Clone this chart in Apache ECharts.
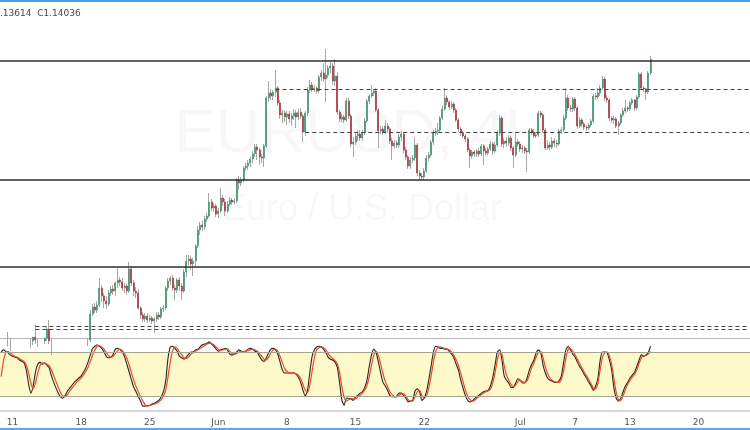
<!DOCTYPE html>
<html>
<head>
<meta charset="utf-8">
<title>EURUSD 4H</title>
<script src="https://cdn.jsdelivr.net/npm/echarts@6/dist/echarts.min.js"></script>
<style>
  html, body { margin: 0; padding: 0; background: #fff; }
  #main { width: 750px; height: 430px; }
</style>
</head>
<body>
<div id="main"></div>
<script>
// EUR/USD 4H candles, prices stored x10000 (pips)
const open = [
  10832,10838,10842,10836,10845,10830,10818,10812,10806,10812,
  10804,10810,10822,10834,10840,10848,10842,10836,10830,10840,
  10846,10864,10840,10822,10800,10786,10778,10790,10798,10810,
  10804,10796,10788,10800,10806,10812,10818,10826,10836,10842,
  10894,10908,10902,10912,10946,10930,10920,10914,10936,10944,
  10940,10956,10962,10958,10946,10950,10940,10984,10956,10940,
  10936,10906,10892,10884,10890,10882,10886,10880,10884,10892,
  10888,10904,10906,10946,10960,10966,10946,10942,10962,10950,
  10940,10978,11000,11004,10994,11000,11030,11062,11072,11068,
  11084,11090,11118,11106,11110,11094,11100,11126,11118,11100,
  11114,11122,11118,11120,11162,11156,11162,11186,11190,11196,
  11204,11214,11228,11222,11208,11206,11230,11326,11336,11330,
  11338,11346,11316,11292,11296,11288,11294,11284,11290,11296,
  11288,11298,11290,11258,11296,11342,11352,11344,11346,11340,
  11368,11376,11364,11372,11386,11390,11360,11370,11298,11284,
  11288,11282,11320,11290,11234,11238,11250,11254,11246,11256,
  11280,11320,11330,11336,11340,11302,11260,11264,11258,11270,
  11264,11240,11230,11236,11232,11248,11254,11222,11208,11190,
  11202,11206,11232,11176,11170,11168,11180,11206,11212,11238,
  11256,11260,11262,11286,11304,11326,11318,11308,11314,11302,
  11282,11264,11256,11250,11244,11222,11210,11218,11214,11220,
  11214,11230,11220,11216,11224,11234,11220,11232,11256,11286,
  11234,11240,11236,11246,11226,11212,11238,11234,11224,11226,
  11220,11218,11262,11258,11250,11252,11296,11292,11262,11226,
  11232,11228,11240,11236,11234,11260,11262,11286,11326,11306,
  11304,11324,11306,11270,11282,11274,11268,11266,11272,11280,
  11330,11328,11336,11346,11364,11326,11322,11286,11282,11284,
  11270,11276,11292,11300,11306,11304,11316,11322,11306,11328,
  11374,11346,11344,11338,11376
];
const close = [
  10838,10842,10836,10845,10830,10818,10812,10806,10812,10804,
  10810,10822,10834,10840,10848,10842,10836,10830,10840,10846,
  10864,10840,10822,10800,10786,10778,10790,10798,10810,10804,
  10796,10788,10800,10806,10812,10818,10826,10836,10842,10894,
  10908,10902,10912,10946,10930,10920,10914,10936,10944,10940,
  10956,10962,10958,10946,10950,10940,10984,10956,10940,10936,
  10906,10892,10884,10890,10882,10886,10880,10884,10892,10888,
  10904,10906,10946,10960,10966,10946,10942,10962,10950,10940,
  10978,11000,11004,10994,11000,11030,11062,11072,11068,11084,
  11090,11118,11106,11110,11094,11100,11126,11118,11100,11114,
  11122,11118,11120,11162,11156,11162,11186,11190,11196,11204,
  11214,11228,11222,11208,11206,11230,11326,11336,11330,11338,
  11346,11316,11292,11296,11288,11294,11284,11290,11296,11288,
  11298,11290,11258,11296,11342,11352,11344,11346,11340,11368,
  11376,11364,11372,11386,11390,11360,11370,11298,11284,11288,
  11282,11320,11290,11234,11238,11250,11254,11246,11256,11280,
  11320,11330,11336,11340,11302,11260,11264,11258,11270,11264,
  11240,11230,11236,11232,11248,11254,11222,11208,11190,11202,
  11206,11232,11176,11170,11168,11180,11206,11212,11238,11256,
  11260,11262,11286,11304,11326,11318,11308,11314,11302,11282,
  11264,11256,11250,11244,11222,11210,11218,11214,11220,11214,
  11230,11220,11216,11224,11234,11220,11232,11256,11286,11234,
  11240,11236,11246,11226,11212,11238,11234,11224,11226,11220,
  11218,11262,11258,11250,11252,11296,11292,11262,11226,11232,
  11228,11240,11236,11234,11260,11262,11286,11326,11306,11304,
  11324,11306,11270,11282,11274,11268,11266,11272,11280,11330,
  11328,11336,11346,11364,11326,11322,11286,11282,11284,11270,
  11276,11292,11300,11306,11304,11316,11322,11306,11328,11374,
  11346,11344,11338,11376,11403.6
];
const low = [
  10822,10828,10826,10830,10820,10808,10800,10790,10796,10794,
  10798,10804,10816,10826,10832,10834,10828,10820,10824,10834,
  10840,10834,10812,10790,10774,10766,10772,10784,10792,10796,
  10786,10776,10782,10794,10800,10806,10810,10820,10830,10838,
  10890,10896,10896,10908,10918,10906,10904,10910,10930,10932,
  10930,10946,10950,10940,10936,10932,10936,10950,10930,10926,
  10902,10884,10878,10878,10876,10878,10874,10856,10878,10882,
  10884,10898,10902,10940,10952,10940,10922,10936,10940,10922,
  10936,10968,10992,10982,10970,10990,11026,11052,11060,11062,
  11078,11086,11100,11098,11088,11086,11096,11110,11090,11096,
  11110,11112,11114,11116,11142,11150,11158,11180,11182,11188,
  11196,11208,11202,11192,11196,11188,11226,11318,11322,11322,
  11328,11310,11284,11276,11278,11272,11276,11270,11282,11266,
  11282,11284,11238,11250,11290,11336,11338,11338,11334,11336,
  11360,11358,11318,11366,11376,11352,11350,11292,11278,11278,
  11276,11278,11284,11228,11208,11232,11240,11240,11240,11252,
  11276,11314,11326,11330,11298,11226,11254,11252,11254,11256,
  11234,11202,11224,11226,11226,11240,11216,11202,11184,11184,
  11196,11200,11170,11162,11162,11162,11176,11200,11208,11232,
  11250,11252,11258,11282,11300,11312,11302,11304,11296,11278,
  11258,11250,11246,11238,11218,11186,11204,11208,11208,11208,
  11210,11192,11212,11212,11220,11212,11216,11228,11250,11228,
  11226,11228,11230,11220,11186,11208,11228,11218,11216,11214,
  11178,11214,11252,11246,11246,11248,11286,11256,11222,11222,
  11222,11224,11228,11226,11230,11254,11258,11282,11300,11298,
  11298,11300,11264,11266,11268,11262,11260,11262,11268,11276,
  11322,11324,11330,11342,11320,11316,11280,11276,11274,11266,
  11252,11272,11288,11296,11298,11300,11312,11300,11302,11324,
  11342,11338,11322,11334,11372
];
const high = [
  10844,10844,10843,10858,10846,10836,10826,10820,10818,10818,
  10816,10828,10840,10846,10846,10872,10846,10844,10845,10846,
  10868,10882,10846,10828,10806,10792,10796,10806,10816,10818,
  10812,10802,10806,10814,10820,10826,10832,10842,10846,10902,
  10914,10916,10920,10966,10952,10936,10930,10942,10950,10952,
  10960,10986,10968,10966,10956,10954,10998,10990,10962,10948,
  10944,10910,10898,10896,10896,10892,10890,10888,10898,10898,
  10908,10912,10950,10966,10970,10972,10952,10966,10968,10956,
  10984,11012,11012,11010,11006,11034,11070,11078,11080,11090,
  11096,11136,11124,11116,11114,11106,11146,11132,11124,11120,
  11128,11126,11126,11166,11170,11168,11190,11196,11202,11210,
  11220,11234,11234,11226,11214,11234,11330,11360,11344,11342,
  11382,11350,11322,11302,11302,11300,11300,11296,11304,11302,
  11304,11306,11294,11300,11348,11362,11358,11352,11350,11372,
  11382,11396,11424,11392,11398,11396,11404,11378,11302,11294,
  11292,11326,11326,11294,11248,11256,11262,11262,11262,11286,
  11324,11334,11352,11344,11346,11306,11270,11270,11282,11276,
  11268,11246,11242,11242,11254,11260,11258,11228,11212,11208,
  11212,11248,11236,11182,11176,11186,11212,11218,11242,11262,
  11266,11276,11290,11310,11346,11332,11322,11320,11318,11306,
  11286,11268,11260,11254,11248,11226,11222,11222,11224,11226,
  11234,11234,11226,11228,11240,11238,11238,11262,11292,11290,
  11246,11248,11252,11250,11230,11256,11244,11240,11232,11230,
  11226,11266,11266,11264,11258,11300,11300,11296,11266,11242,
  11238,11248,11246,11242,11264,11268,11292,11346,11332,11312,
  11328,11328,11310,11288,11286,11278,11272,11276,11284,11334,
  11336,11346,11352,11370,11368,11332,11326,11290,11290,11288,
  11280,11296,11306,11322,11310,11320,11326,11324,11332,11378,
  11378,11350,11346,11380,11410
];

// stochastic %K (black) and %D (red)
const stochK = [
  81,84,82,80,77,75,74,73,70,68, 66,56,37,24,34,53,64,67,64,66,
  63,59,48,39,31,24,19,17,21,27, 31,35,39,42,45,48,53,59,67,77,
  86,89,91,89,86,81,75,73,74,78, 85,86,84,81,74,64,53,42,32,26,
  19,13,6,6,7,7,9,10,12,14, 19,26,42,73,88,89,86,82,75,73,
  71,74,78,81,81,84,85,88,91,92, 93,95,92,89,85,82,84,85,86,84,
  78,77,78,81,84,82,81,82,85,86, 85,82,81,75,70,68,73,80,85,86,
  84,78,67,56,52,52,52,52,52,50, 46,39,28,20,28,53,75,84,88,89,
  88,85,80,74,71,70,67,60,39,14, 7,17,17,16,14,19,21,24,26,32,
  42,61,77,85,80,67,52,39,34,28, 21,19,19,20,24,24,21,17,12,13,
  14,27,30,26,14,17,26,42,61,80, 89,88,86,86,85,85,82,78,73,64,
  56,42,31,21,14,12,13,16,19,21, 24,26,27,28,34,46,63,81,84,70,
  48,42,38,32,32,38,44,42,38,38, 45,56,64,70,80,84,80,63,52,45,
  42,41,39,39,41,48,67,84,89,84, 78,74,67,61,56,50,45,39,34,28,
  34,45,70,81,81,80,70,56,31,17, 13,17,26,34,39,45,49,53,61,70,
  77,75,77,80,89
];
const stochD = [
  47,68,80,82,80,77,75,74,72,70, 68,63,52,38,30,38,52,62,66,65,
  64,62,56,48,40,32,25,20,19,22, 27,31,35,39,42,45,49,54,60,68,
  77,84,89,90,88,85,80,76,74,75, 79,83,85,83,79,72,63,52,42,33,
  26,19,13,8,6,7,8,9,10,12, 15,20,29,47,68,83,88,86,81,77,
  73,72,74,78,80,82,84,86,88,90, 92,93,93,91,88,85,83,84,85,85,
  82,79,78,79,81,82,82,82,83,84, 85,84,82,79,75,71,70,74,80,84,
  85,82,75,66,58,54,52,52,52,51, 49,44,36,28,25,35,55,73,84,87,
  88,87,84,79,75,72,69,65,53,33, 18,13,15,16,16,16,19,21,24,28,
  35,47,63,77,82,76,64,51,40,33, 26,22,19,19,21,23,23,20,15,13,
  13,19,26,28,21,17,20,31,47,66, 81,87,88,87,86,85,84,81,76,70,
  62,51,40,29,20,15,13,14,17,19, 22,24,26,27,30,38,52,70,80,78,
  62,49,42,36,33,35,40,42,40,39, 41,49,59,66,74,80,82,73,60,51,
  45,42,40,39,39,43,55,73,85,86, 82,77,71,65,59,53,48,43,37,31,
  30,38,57,74,80,81,76,64,44,25, 15,14,20,29,36,42,46,50,56,65,
  73,76,76,78,82
];

// x axis ticks
const tickDates = ['2020-05-11','2020-05-18','2020-05-25','2020-06-01','2020-06-08','2020-06-15',
                   '2020-06-22','2020-07-01','2020-07-07','2020-07-13','2020-07-20'];
const tickText = ['11','18','25','Jun','8','15','22','Jul','7','13','20'];

// drawn levels (pips)
const solidLevels = [11400, 11162, 10988];
const dashedLevels = [11344, 11258, 10870, 10864];
const dashedFrom = ['2020-06-05 04:00', '2020-06-09 08:00', '2020-05-12 16:00', '2020-05-12 16:00'];

// 4H bar slots, weekdays only, from May 8 2020 04:00 to past the last bar
const slots = 328;
const categories = [];
const day = new Date(Date.UTC(2020, 4, 8));
let firstHour = 4;
while (categories.length < slots) {
  const wd = day.getUTCDay();
  if (wd !== 0 && wd !== 6) {
    for (let h = firstHour; h < 24 && categories.length < slots; h += 4) {
      categories.push(day.toISOString().slice(0, 10) + ' ' + String(h).padStart(2, '0') + ':00');
    }
    firstHour = 0;
  }
  day.setUTCDate(day.getUTCDate() + 1);
}

const candles = open.map((o, i) => [o, close[i], low[i], high[i]].map(v => v / 1e4));
const bodies = candles.map(([o, c]) => [o, c, Math.min(o, c), Math.max(o, c)]);

const tickAt = {};
tickDates.forEach((d, k) => { tickAt[categories.indexOf(d + ' 00:00')] = tickText[k]; });
const isTick = idx => tickAt[idx] !== undefined;

const chart = echarts.init(document.getElementById('main'));

const option = {
  animation: false,
  backgroundColor: '#ffffff',
  grid: [
    { left: 0, right: 0, top: 3, height: 335, outerBoundsMode: 'none' },
    { left: 0, right: 0, top: 338.3, height: 72.2, outerBoundsMode: 'none' }
  ],
  xAxis: [
    {
      type: 'category', gridIndex: 0, data: categories, boundaryGap: true,
      axisLine: { lineStyle: { color: '#b8b8b8', width: 1 } },
      axisTick: { show: false }, axisLabel: { show: false }, splitLine: { show: false }
    },
    {
      type: 'category', gridIndex: 1, data: categories, boundaryGap: true, offset: 1.5,
      axisLine: { lineStyle: { color: '#cacaca', width: 1.5 } },
      axisTick: { interval: isTick, alignWithLabel: true, length: 3, lineStyle: { color: '#999' } },
      axisLabel: {
        interval: isTick, formatter: (v, i) => tickAt[i],
        fontSize: 9, color: '#555', margin: 6, fontFamily: '"DejaVu Sans"'
      },
      splitLine: { show: false }
    }
  ],
  yAxis: [
    { gridIndex: 0, min: 1.0846, max: 1.1516, show: false },
    { gridIndex: 1, min: 0, max: 100, show: false }
  ],
  graphic: [
    { type: 'rect', z: 100, shape: { x: 0, y: 0, width: 750, height: 2 }, style: { fill: '#4b9be6' } },
    { type: 'rect', z: 100, shape: { x: 0, y: 428, width: 750, height: 2 }, style: { fill: '#5aa9ef' } },
    { type: 'text', z: 100, x: 0, y: 9, style: { text: '.13614  C1.14036', font: '9px "DejaVu Sans"', fill: '#4a4a4a' } },
    { type: 'text', z: -1, x: 362, y: 135, style: { text: 'EURUSD, 4H', font: '62px "Liberation Sans"', fill: 'rgba(0,0,0,0.03)', textAlign: 'center', textVerticalAlign: 'middle' } },
    { type: 'text', z: -1, x: 362, y: 210, style: { text: 'Euro / U.S. Dollar', font: '36px "Liberation Sans"', fill: 'rgba(0,0,0,0.03)', textAlign: 'center', textVerticalAlign: 'middle' } }
  ],
  series: [
    {
      name: 'wicks', type: 'candlestick', xAxisIndex: 0, yAxisIndex: 0,
      data: candles, barWidth: 1, clip: true,
      itemStyle: { color: '#a8a8a8', color0: '#a8a8a8', borderColor: '#a8a8a8', borderColor0: '#a8a8a8', borderWidth: 1 },
      markLine: {
        silent: true, symbol: 'none', precision: 6, label: { show: false },
        data: [
          ...solidLevels.map(v => ({ yAxis: v / 1e4, lineStyle: { color: '#2e2e2e', width: 1.6, type: 'solid' } })),
          ...dashedLevels.map((v, k) => [
            { coord: [dashedFrom[k], v / 1e4], lineStyle: { color: '#444', width: 1, type: [4, 3] } },
            { coord: [categories[slots - 1], v / 1e4] }
          ])
        ]
      }
    },
    {
      name: 'EURUSD', type: 'candlestick', xAxisIndex: 0, yAxisIndex: 0,
      data: bodies, barWidth: 1.5, clip: true,
      itemStyle: { color: '#4a9b76', color0: '#a9414a', borderColor: '#4a9b76', borderColor0: '#a9414a', borderWidth: 0.8 }
    },
    {
      name: '%K', type: 'line', xAxisIndex: 1, yAxisIndex: 1, data: stochK,
      symbol: 'none', smooth: 0.2, lineStyle: { color: '#262626', width: 1.1 },
      markArea: { silent: true, itemStyle: { color: '#fdf9c8' }, data: [[{ yAxis: 20 }, { yAxis: 80 }]] },
      markLine: {
        silent: true, symbol: 'none', label: { show: false },
        lineStyle: { color: '#a5a28e', type: 'solid', width: 1 },
        data: [{ yAxis: 20 }, { yAxis: 80 }]
      }
    },
    {
      name: '%D', type: 'line', xAxisIndex: 1, yAxisIndex: 1, data: stochD,
      symbol: 'none', smooth: 0.2, lineStyle: { color: '#f2472e', width: 1.2 }
    }
  ]
};

chart.setOption(option);
</script>
</body>
</html>
